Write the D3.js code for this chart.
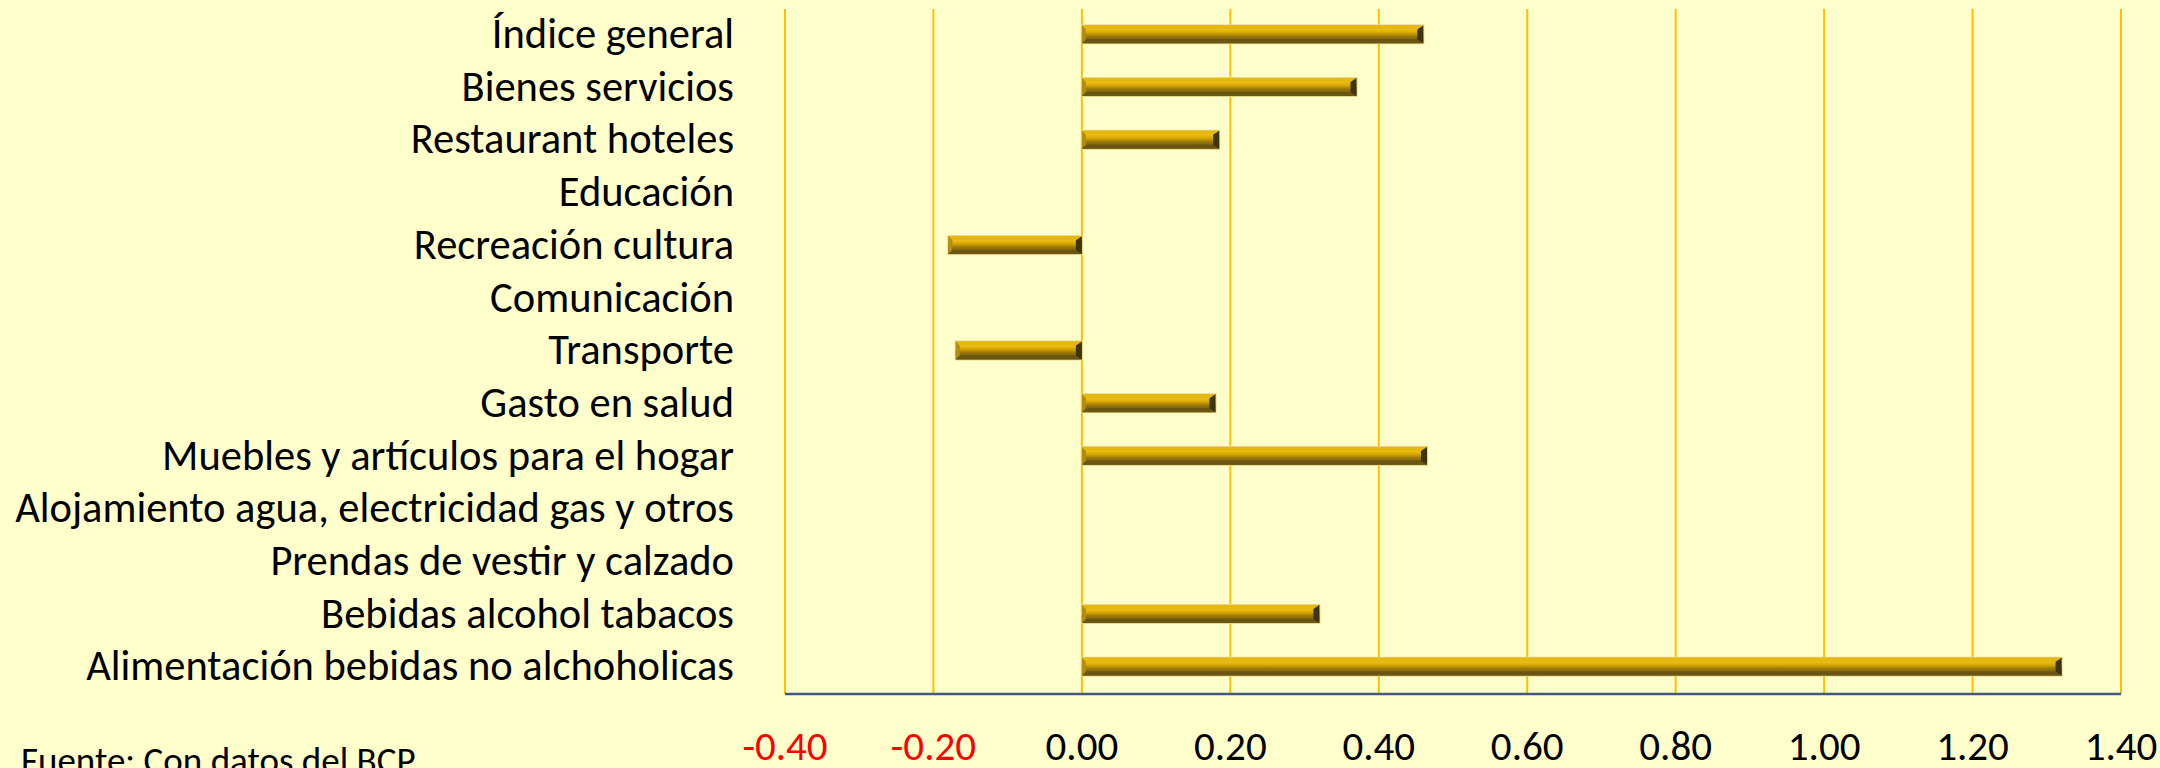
<!DOCTYPE html>
<html>
<head>
<meta charset="utf-8">
<script src="https://cdn.jsdelivr.net/npm/d3@7"></script>
<style>
  html, body { margin: 0; padding: 0; background: #ffffcc; }
  svg { display: block; }
  text { font-family: Carlito, Calibri, Lato, sans-serif; }
</style>
</head>
<body>
<div id="chart"></div>
<script>
// categories listed bottom to top, like the source spreadsheet
const categories = [
    "Alimentación bebidas no alchoholicas",
    "Bebidas alcohol tabacos",
    "Prendas de vestir y calzado",
    "Alojamiento agua, electricidad gas y otros",
    "Muebles y artículos para el hogar",
    "Gasto en salud",
    "Transporte",
    "Comunicación",
    "Recreación cultura",
    "Educación",
    "Restaurant hoteles",
    "Bienes servicios",
    "Índice general"
];
const values = [1.32, 0.32, 0, 0, 0.465, 0.18, -0.17, 0, -0.18, 0, 0.185, 0.37, 0.46];
const tickValues = [-0.4, -0.2, 0, 0.2, 0.4, 0.6, 0.8, 1.0, 1.2, 1.4];
const sourceNote = "Fuente: Con datos del BCP";

const width = 2160;
const height = 768;
const plot = { left: 785, right: 2121, top: 9, bottom: 694 };

const svg = d3.select("#chart").append("svg")
    .attr("width", width)
    .attr("height", height);

svg.append("rect")
    .attr("width", width)
    .attr("height", height)
    .attr("fill", "#ffffcc");

const x = d3.scaleLinear()
    .domain([-0.4, 1.4])
    .range([plot.left, plot.right]);

const y = d3.scaleBand()
    .domain(categories)
    .range([plot.bottom, plot.top])
    .paddingInner(0.66)
    .paddingOuter(0.33);

// gradient for the gold bars
const defs = svg.append("defs");
const grad = defs.append("linearGradient")
    .attr("id", "gold")
    .attr("x1", 0).attr("y1", 0).attr("x2", 0).attr("y2", 1);
[
    [0, "#d2a812"], [0.2, "#f2c21a"], [0.42, "#d6a400"],
    [0.6, "#9e7c0c"], [0.85, "#6f5810"], [1, "#7c6618"]
].forEach(([o, c]) => grad.append("stop").attr("offset", o).attr("stop-color", c));

// vertical gridlines
svg.append("g")
    .selectAll("line")
    .data(tickValues)
    .join("line")
    .attr("x1", d => x(d))
    .attr("x2", d => x(d))
    .attr("y1", plot.top)
    .attr("y2", plot.bottom)
    .attr("stroke", "#ffc000")
    .attr("stroke-width", 2);

// bottom axis line
svg.append("line")
    .attr("x1", plot.left)
    .attr("x2", plot.right)
    .attr("y1", plot.bottom)
    .attr("y2", plot.bottom)
    .attr("stroke", "#44587f")
    .attr("stroke-width", 2.5);

// bars with a bevelled edge
const bev = 4;
const barData = categories.map((c, i) => ({ cat: c, val: values[i] }))
    .filter(d => d.val !== 0);

svg.append("g")
    .selectAll("g")
    .data(barData)
    .join("g")
    .each(function (d) {
        const g = d3.select(this);
        const x0 = x(Math.min(0, d.val));
        const x1 = x(Math.max(0, d.val));
        const y0 = y(d.cat) - 1;
        const y1 = y0 + y.bandwidth();

        // soft halo
        g.append("rect")
            .attr("x", x0 - 1).attr("y", y0 - 1)
            .attr("width", x1 - x0 + 2).attr("height", y1 - y0 + 2)
            .attr("fill", "#e9d68a");

        g.append("rect")
            .attr("x", x0).attr("y", y0)
            .attr("width", x1 - x0).attr("height", y1 - y0)
            .attr("fill", "url(#gold)");

        const pts = a => a.map(p => p.join(",")).join(" ");
        // top edge (light)
        g.append("polygon")
            .attr("points", pts([[x0, y0], [x1, y0], [x1 - bev, y0 + bev], [x0 + bev, y0 + bev]]))
            .attr("fill", "#e6b80e");
        // bottom edge (dark)
        g.append("polygon")
            .attr("points", pts([[x0, y1], [x1, y1], [x1 - bev, y1 - bev], [x0 + bev, y1 - bev]]))
            .attr("fill", "#6a5512");
        // left end
        g.append("polygon")
            .attr("points", pts([[x0, y0], [x0 + bev, y0 + bev], [x0 + bev, y1 - bev], [x0, y1]]))
            .attr("fill", "#b08c10");
        // right end (darkest)
        g.append("polygon")
            .attr("points", pts([[x1, y0], [x1 - bev - 2, y0 + bev], [x1 - bev - 2, y1 - bev], [x1, y1]]))
            .attr("fill", "#3e3410");
    });

// category labels
svg.append("g")
    .selectAll("text")
    .data(categories)
    .join("text")
    .attr("x", 734)
    .attr("y", d => y(d) + y.bandwidth() / 2)
    .attr("dy", "0.3em")
    .attr("text-anchor", "end")
    .attr("fill", "#000")
    .style("font-size", "42.5px")
    .text(d => d);

// x tick labels
svg.append("g")
    .selectAll("text")
    .data(tickValues)
    .join("text")
    .attr("x", d => x(d))
    .attr("y", 760)
    .attr("text-anchor", "middle")
    .attr("fill", d => d < 0 ? "#ff0000" : "#000")
    .style("font-size", "41px")
    .text(d => d.toFixed(2));

svg.append("text")
    .attr("x", 21)
    .attr("y", 773)
    .attr("fill", "#000")
    .style("font-size", "37px")
    .text(sourceNote);
</script>
</body>
</html>
